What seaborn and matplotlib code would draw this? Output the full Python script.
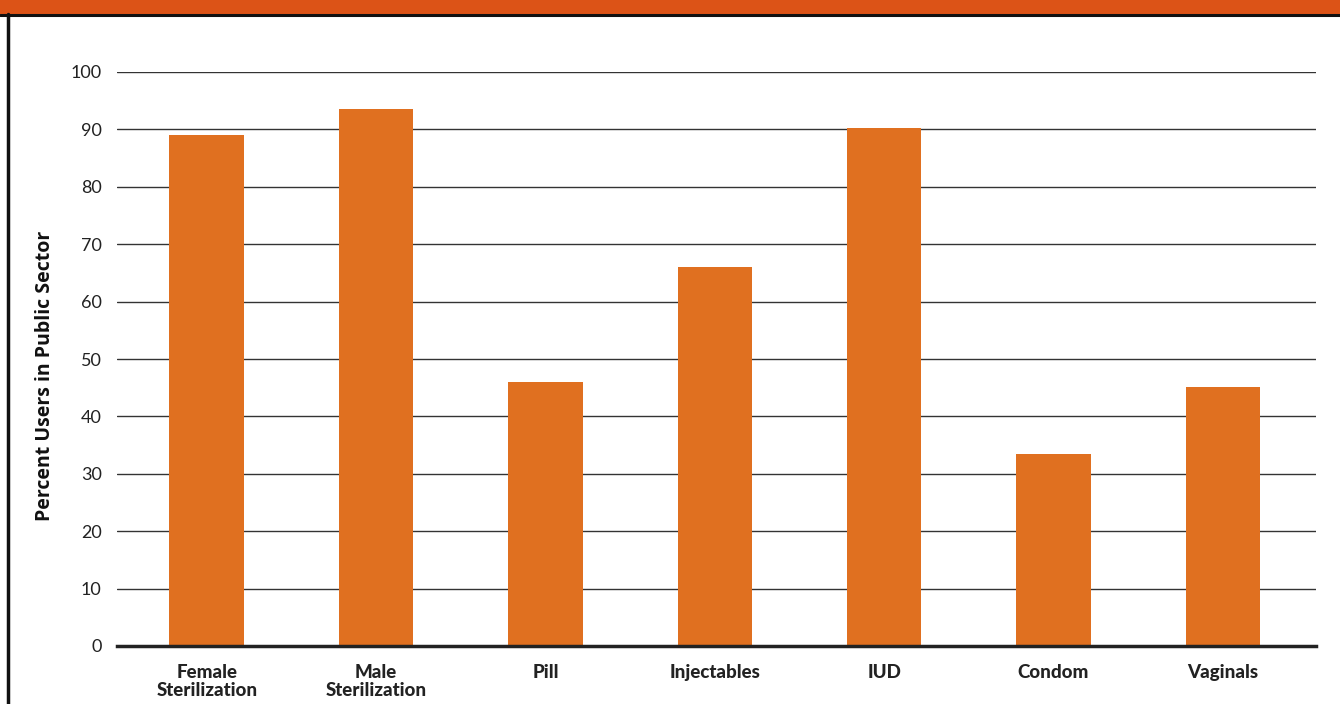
import matplotlib
matplotlib.use("Agg")
import matplotlib.pyplot as plt
import seaborn as sns
import pandas as pd
from matplotlib.patches import Rectangle
from matplotlib.lines import Line2D

categories = ["Female\nSterilization", "Male\nSterilization", "Pill", "Injectables",
              "IUD", "Condom", "Vaginals"]
values = [89.0, 93.5, 46.0, 66.0, 90.3, 33.5, 45.1]
y_ticks = [0, 10, 20, 30, 40, 50, 60, 70, 80, 90, 100]
y_label = "Percent Users in Public Sector"

bar_color = "#E07020"
banner_color = "#DC5317"

sns.set_theme(style="white")
plt.rcParams['font.family'] = ['Lato', 'DejaVu Sans']

df = pd.DataFrame({"method": categories, "pct": values})

fig = plt.figure(figsize=(13.4, 7.04), dpi=100)
ax = fig.add_axes([117/1340, 1 - 646/704, (1316-117)/1340, (646-72)/704])

sns.barplot(data=df, x="method", y="pct", color=bar_color, width=0.44,
            saturation=1, ax=ax, zorder=3, edgecolor="none")

ax.set_ylim(0, 100)
ax.set_xlim(-0.53, 6.55)
ax.set_yticks(y_ticks)
ax.set_yticklabels([str(t) for t in y_ticks], fontsize=13, color="#222222")
ax.yaxis.grid(True, color="#333333", linewidth=1.0, zorder=0)
ax.set_axisbelow(True)
ax.tick_params(axis="both", length=0)
ax.tick_params(axis="y", pad=11)
ax.tick_params(axis="x", pad=13)
for lbl in ax.get_xticklabels():
    lbl.set_fontweight("black")
    lbl.set_fontsize(13.5)
    lbl.set_color("#222222")
    lbl.set_linespacing(1.05)
for s in ["top", "right", "left"]:
    ax.spines[s].set_visible(False)
ax.spines["bottom"].set_color("#222222")
ax.spines["bottom"].set_linewidth(2.5)
ax.spines["bottom"].set_zorder(4)
ax.set_xlabel("")
ax.set_ylabel(y_label, fontsize=14, fontweight="bold", family=["Open Sans", "DejaVu Sans"],
              color="#111111")
ax.yaxis.set_label_coords(-62/1199, 0.47)

# banner and frame
fig.patches.append(Rectangle((0, 1 - 14/704), 1, 14/704, transform=fig.transFigure,
                             facecolor=banner_color, edgecolor="none", zorder=5))
fig.lines.append(Line2D([0, 1], [1 - 15/704, 1 - 15/704], transform=fig.transFigure,
                        color="#111111", linewidth=2.2, zorder=6))
fig.lines.append(Line2D([8/1340, 8/1340], [0, 1 - 14/704], transform=fig.transFigure,
                        color="#111111", linewidth=2.5, zorder=6))

fig.savefig("out.png", dpi=100)
